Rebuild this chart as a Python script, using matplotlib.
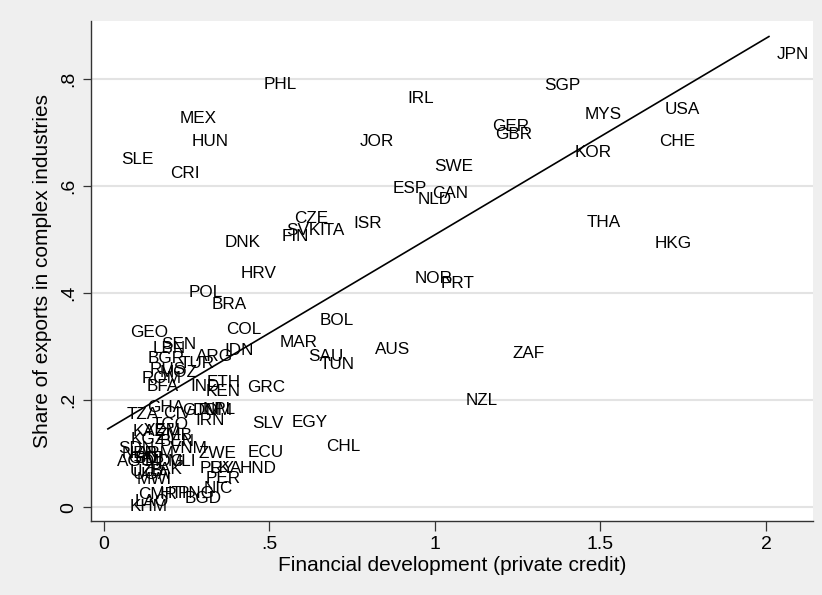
import numpy as np
import matplotlib
matplotlib.use("Agg")
import matplotlib.pyplot as plt

plt.rcParams['font.family'] = ['Liberation Sans', 'DejaVu Sans']

# country codes, private credit / GDP, share of exports in complex industries
countries = [
    "JPN", "SGP", "PHL", "IRL", "MYS", "USA", "MEX", "GER", "GBR", "HUN",
    "JOR", "CHE", "KOR", "SLE", "SWE", "CRI", "ESP", "CAN", "NLD", "CZE",
    "THA", "ISR", "SVK", "ITA", "FIN", "DNK", "HKG", "HRV", "NOR", "PRT",
    "POL", "BRA", "BOL", "COL", "GEO", "MAR", "SEN", "LBN", "AUS", "IDN",
    "ARG", "SAU", "ZAF", "BGR", "TUR", "TUN", "RUS", "MOZ", "ROM", "BFA",
    "IND", "ETH", "KEN", "GRC", "NZL", "GHA", "TZA", "CIV", "GTM", "DOM",
    "NPL", "IRN", "SLV", "EGY", "TGO", "YEM", "KAZ", "ZMB", "KGZ", "BEN",
    "CHL", "SDN", "VNM", "ZWE", "ECU", "NER", "ARM", "AGO", "GAB", "BDI",
    "MDG", "MLI", "UZB", "PAK", "UGA", "PRY", "LKA", "HND", "MWI", "PER",
    "NIC", "CMR", "HTI", "PNG", "BGD", "LAO", "KHM",
]
private_credit = [
    2.009, 1.305, 0.459, 0.891, 1.429, 1.671, 0.205, 1.148, 1.157, 0.242,
    0.749, 1.653, 1.399, 0.027, 0.973, 0.175, 0.849, 0.967, 0.924, 0.550,
    1.435, 0.728, 0.526, 0.628, 0.514, 0.341, 1.640, 0.390, 0.915, 0.994,
    0.233, 0.302, 0.628, 0.344, 0.054, 0.508, 0.148, 0.124, 0.795, 0.341,
    0.254, 0.592, 1.211, 0.109, 0.205, 0.628, 0.115, 0.145, 0.091, 0.106,
    0.236, 0.287, 0.284, 0.408, 1.069, 0.106, 0.045, 0.154, 0.211, 0.245,
    0.275, 0.251, 0.423, 0.544, 0.121, 0.097, 0.063, 0.136, 0.057, 0.145,
    0.647, 0.018, 0.175, 0.260, 0.411, 0.030, 0.076, 0.015, 0.048, 0.069,
    0.100, 0.169, 0.054, 0.115, 0.063, 0.266, 0.296, 0.387, 0.076, 0.284,
    0.278, 0.079, 0.145, 0.199, 0.221, 0.069, 0.054,
]
complex_share = [
    0.849, 0.791, 0.793, 0.766, 0.736, 0.746, 0.729, 0.714, 0.699, 0.686,
    0.686, 0.686, 0.665, 0.652, 0.639, 0.626, 0.598, 0.589, 0.578, 0.542,
    0.535, 0.533, 0.520, 0.520, 0.508, 0.497, 0.495, 0.439, 0.430, 0.421,
    0.404, 0.381, 0.351, 0.335, 0.329, 0.310, 0.307, 0.299, 0.297, 0.295,
    0.284, 0.284, 0.290, 0.280, 0.271, 0.269, 0.260, 0.254, 0.243, 0.228,
    0.228, 0.236, 0.219, 0.226, 0.202, 0.189, 0.176, 0.178, 0.183, 0.183,
    0.185, 0.164, 0.159, 0.161, 0.157, 0.146, 0.144, 0.136, 0.129, 0.125,
    0.116, 0.112, 0.112, 0.103, 0.105, 0.103, 0.103, 0.088, 0.093, 0.093,
    0.088, 0.088, 0.069, 0.073, 0.064, 0.075, 0.075, 0.075, 0.054, 0.056,
    0.037, 0.026, 0.028, 0.028, 0.019, 0.013, 0.004,
]

# fitted line end points (linear fit)
fit_x = [0.012, 2.009]
fit_y = [0.146, 0.879]

x_ticks = [0, 0.5, 1, 1.5, 2]
x_labels = ["0", ".5", "1", "1.5", "2"]
y_ticks = [0, 0.2, 0.4, 0.6, 0.8]
y_labels = ["0", ".2", ".4", ".6", ".8"]

bg = "#efefef"
fig = plt.figure(figsize=(8.22, 5.95), dpi=100, facecolor=bg)
ax = fig.add_axes([0.1107, 0.1244, 0.8783, 0.8403])
ax.set_facecolor("white")

for yt in y_ticks:
    ax.axhline(yt, color="#e3e3e3", lw=1.5, zorder=0)

ax.plot(fit_x, fit_y, color="black", lw=1.2, zorder=2)

label_size = 12.3
for c, xv, yv in zip(countries, private_credit, complex_share):
    ax.annotate(c, (xv, yv), xytext=(5.8, -0.358 * label_size),
                textcoords="offset points", ha="left", va="baseline",
                fontsize=label_size, color="black", zorder=3)

ax.set_xlim(-0.039, 2.142)
ax.set_ylim(-0.026, 0.908)

for s in ["top", "right"]:
    ax.spines[s].set_visible(False)
for s in ["left", "bottom"]:
    ax.spines[s].set_color("#333333")
    ax.spines[s].set_linewidth(1.0)

ax.set_xticks(x_ticks)
ax.set_xticklabels(x_labels)
ax.set_yticks(y_ticks)
ax.set_yticklabels(y_labels, rotation=90, va="center")
ax.tick_params(axis="x", length=7, width=0.9, color="#333333", labelsize=14, pad=4)
ax.tick_params(axis="y", length=6, width=0.9, color="#333333", labelsize=14, pad=4)

ax.set_xlabel("Financial development (private credit)", fontsize=15, labelpad=2)
ax.set_ylabel("Share of exports in complex industries", fontsize=15, labelpad=6)

fig.savefig("out.png", dpi=100, facecolor=bg)
